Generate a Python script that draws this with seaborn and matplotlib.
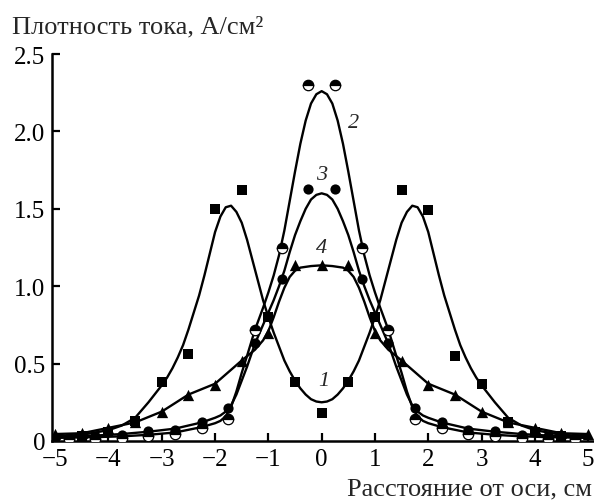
import matplotlib
matplotlib.use("Agg")
import matplotlib.pyplot as plt
import seaborn as sns

# --- measured points ---------------------------------------------------
sq_x = [-4.5, -4.0, -3.5, -3.0, -2.5, -2.0, -1.5, -1.0, -0.5, 0.0,
        0.5, 1.0, 1.5, 2.0, 2.5, 3.0, 3.5, 4.0, 4.5]
sq_y = [0.03, 0.06, 0.13, 0.38, 0.56, 1.50, 1.62, 0.80, 0.38, 0.18,
        0.38, 0.80, 1.62, 1.49, 0.55, 0.37, 0.12, 0.06, 0.03]

circ_x = [-4.75, -4.25, -3.75, -3.25, -2.75, -2.25, -1.75, -1.25, -0.75, -0.25,
          0.25, 0.75, 1.25, 1.75, 2.25, 2.75, 3.25, 3.75, 4.25, 4.75]
half_y = [0.01, 0.015, 0.02, 0.03, 0.045, 0.085, 0.14, 0.72, 1.25, 2.30,
          2.30, 1.25, 0.72, 0.14, 0.085, 0.045, 0.03, 0.02, 0.015, 0.01]
full_y = [0.02, 0.03, 0.04, 0.065, 0.07, 0.12, 0.21, 0.63, 1.045, 1.63,
          1.63, 1.045, 0.63, 0.21, 0.12, 0.07, 0.065, 0.04, 0.03, 0.02]

tri_x = [-5.0, -4.5, -4.0, -3.5, -3.0, -2.5, -2.0, -1.5, -1.0, -0.5, 0.0,
         0.5, 1.0, 1.5, 2.0, 2.5, 3.0, 3.5, 4.0, 4.5, 5.0]
tri_y = [0.045, 0.05, 0.085, 0.12, 0.19, 0.30, 0.36, 0.52, 0.70, 1.14, 1.14,
         1.14, 0.70, 0.52, 0.36, 0.30, 0.19, 0.12, 0.085, 0.05, 0.045]

# --- fitted curves -----------------------------------------------------
c1_x = [-5.0, -4.5, -4.0, -3.75, -3.5, -3.25, -3.0, -2.9, -2.8, -2.7, -2.6,
        -2.5, -2.4, -2.3, -2.2, -2.1, -2.0, -1.9, -1.8, -1.7, -1.6, -1.5, -1.4,
        -1.3, -1.2, -1.1, -1.0, -0.9, -0.8, -0.7, -0.6, -0.5, -0.4, -0.3, -0.2,
        -0.1, 0.0, 0.1, 0.2, 0.3, 0.4, 0.5, 0.6, 0.7, 0.8, 0.9, 1.0, 1.1, 1.2,
        1.3, 1.4, 1.5, 1.6, 1.7, 1.8, 1.9, 2.0, 2.1, 2.2, 2.3, 2.4, 2.5, 2.6,
        2.7, 2.8, 2.9, 3.0, 3.25, 3.5, 3.75, 4.0, 4.5, 5.0]
c1_y = [0.03, 0.04, 0.07, 0.10, 0.15, 0.25, 0.36, 0.41, 0.47, 0.54, 0.62,
        0.72, 0.83, 0.94, 1.07, 1.21, 1.35, 1.45, 1.51, 1.52, 1.48, 1.41, 1.30,
        1.17, 1.04, 0.91, 0.80, 0.70, 0.61, 0.52, 0.45, 0.39, 0.34, 0.30, 0.27,
        0.255, 0.25, 0.255, 0.27, 0.30, 0.34, 0.39, 0.45, 0.52, 0.61, 0.70, 0.80,
        0.91, 1.04, 1.17, 1.30, 1.41, 1.48, 1.52, 1.51, 1.45, 1.35, 1.21, 1.07,
        0.94, 0.83, 0.72, 0.62, 0.54, 0.47, 0.41, 0.36, 0.25, 0.15, 0.10, 0.07,
        0.04, 0.03]

c2_x = [-5.0, -4.25, -3.75, -3.25, -2.75, -2.25, -2.0, -1.9, -1.8, -1.7, -1.6,
        -1.5, -1.4, -1.25, -1.1, -1.0, -0.9, -0.8, -0.7, -0.6, -0.5, -0.4, -0.3,
        -0.2, -0.1, 0.0, 0.1, 0.2, 0.3, 0.4, 0.5, 0.6, 0.7, 0.8, 0.9, 1.0, 1.1,
        1.25, 1.4, 1.5, 1.6, 1.7, 1.8, 1.9, 2.0, 2.25, 2.75, 3.25, 3.75, 4.25, 5.0]
c2_y = [0.02, 0.025, 0.03, 0.04, 0.055, 0.09, 0.115, 0.13, 0.16, 0.22, 0.32,
        0.44, 0.55, 0.72, 0.86, 0.96, 1.07, 1.20, 1.36, 1.55, 1.74, 1.92, 2.07,
        2.18, 2.24, 2.26, 2.24, 2.18, 2.07, 1.92, 1.74, 1.55, 1.36, 1.20, 1.07,
        0.96, 0.86, 0.72, 0.55, 0.44, 0.32, 0.22, 0.16, 0.13, 0.115, 0.09, 0.055,
        0.04, 0.03, 0.025, 0.02]

c3_x = [-5.0, -4.25, -3.75, -3.25, -2.75, -2.25, -2.0, -1.9, -1.8, -1.7, -1.6,
        -1.5, -1.4, -1.25, -1.1, -1.0, -0.9, -0.8, -0.7, -0.6, -0.5, -0.4, -0.3,
        -0.2, -0.1, 0.0, 0.1, 0.2, 0.3, 0.4, 0.5, 0.6, 0.7, 0.8, 0.9, 1.0, 1.1,
        1.25, 1.4, 1.5, 1.6, 1.7, 1.8, 1.9, 2.0, 2.25, 2.75, 3.25, 3.75, 4.25, 5.0]
c3_y = [0.03, 0.035, 0.045, 0.06, 0.08, 0.12, 0.15, 0.165, 0.19, 0.23, 0.30,
        0.39, 0.48, 0.63, 0.75, 0.83, 0.91, 1.00, 1.10, 1.22, 1.33, 1.42, 1.50,
        1.56, 1.59, 1.60, 1.59, 1.56, 1.50, 1.42, 1.33, 1.22, 1.10, 1.00, 0.91,
        0.83, 0.75, 0.63, 0.48, 0.39, 0.30, 0.23, 0.19, 0.165, 0.15, 0.12, 0.08,
        0.06, 0.045, 0.035, 0.03]

c4_x = [-5.0, -4.5, -4.0, -3.5, -3.0, -2.5, -2.0, -1.5, -1.25, -1.1, -1.0, -0.9,
        -0.8, -0.7, -0.6, -0.5, -0.4, -0.2, 0.0, 0.2, 0.4, 0.5, 0.6, 0.7, 0.8,
        0.9, 1.0, 1.1, 1.25, 1.5, 2.0, 2.5, 3.0, 3.5, 4.0, 4.5, 5.0]
c4_y = [0.045, 0.05, 0.085, 0.12, 0.19, 0.30, 0.37, 0.52, 0.59, 0.65, 0.71, 0.80,
        0.90, 0.99, 1.06, 1.10, 1.12, 1.13, 1.135, 1.13, 1.12, 1.10, 1.06, 0.99,
        0.90, 0.80, 0.71, 0.65, 0.59, 0.52, 0.37, 0.30, 0.19, 0.12, 0.085, 0.05,
        0.045]

curve_labels = ["1", "2", "3", "4"]
label_x = [0.03, 0.6, 0.0, 0.0]
label_y = [0.39, 2.06, 1.72, 1.25]

sns.set_theme(style="ticks")
plt.rcParams["font.family"] = ["Liberation Serif", "DejaVu Serif"]
plt.rcParams["axes.unicode_minus"] = True

fig = plt.figure(figsize=(5.94, 5.02), dpi=100)
ax = fig.add_axes([52 / 594, 60 / 502, 542 / 594, 387 / 502])

lw = 1.7
for cx, cy in [(c1_x, c1_y), (c2_x, c2_y), (c3_x, c3_y), (c4_x, c4_y)]:
    sns.lineplot(x=cx, y=cy, sort=False, color="black", linewidth=lw, ax=ax)

sns.scatterplot(x=sq_x, y=sq_y, marker="s", s=44, color="black",
                edgecolor="black", linewidth=0, ax=ax, zorder=3)
sns.scatterplot(x=tri_x, y=tri_y, marker="^", s=66, color="black",
                edgecolor="black", linewidth=0, ax=ax, zorder=3)
sns.scatterplot(x=circ_x, y=full_y, marker="o", s=54, color="black",
                edgecolor="black", linewidth=0, ax=ax, zorder=3)
ax.plot(circ_x, half_y, linestyle="none", marker="o", markersize=7.5,
        fillstyle="top", markerfacecolor="black", markerfacecoloralt="white",
        markeredgecolor="black", markeredgewidth=0.9, zorder=3)

for lab, lx, ly in zip(curve_labels, label_x, label_y):
    ax.text(lx, ly, lab, fontsize=16, style="italic", ha="center", va="center")

ax.set_xlim(-5.06, 5.11)
ax.set_ylim(0, 2.5)
ax.set_xticks([-5, -4, -3, -2, -1, 0, 1, 2, 3, 4, 5])
ax.set_yticks([0, 0.5, 1.0, 1.5, 2.0, 2.5])
ax.set_yticklabels(["0", "0.5", "1.0", "1.5", "2.0", "2.5"])
ax.tick_params(direction="in", length=6, width=1.6, labelsize=18,
               colors="black")
ax.tick_params(axis="x", pad=5)
ax.tick_params(axis="y", pad=5)
for side in ["top", "right"]:
    ax.spines[side].set_visible(False)
for side in ["left", "bottom"]:
    ax.spines[side].set_linewidth(1.8)
    ax.spines[side].set_color("black")
ax.set_xlabel("")
ax.set_ylabel("")

fig.text(12 / 594, 1 - 33 / 502, "Плотность тока, А/см²", fontsize=19,
         ha="left", va="baseline")
fig.text(0.996, 7 / 502, "Расстояние от оси, см", fontsize=19,
         ha="right", va="baseline")

fig.savefig("out.png", dpi=100)
